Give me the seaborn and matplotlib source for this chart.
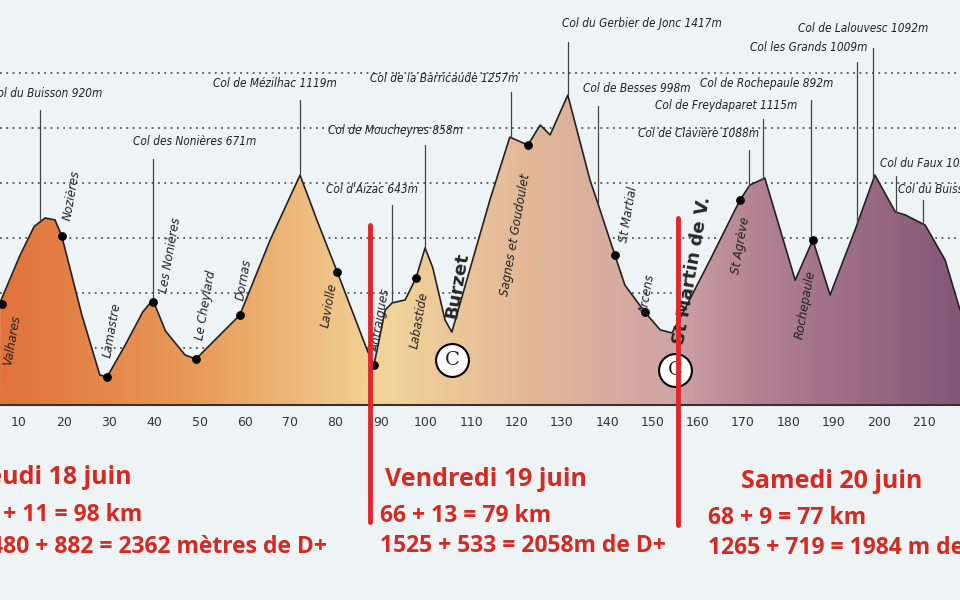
import numpy as np
import pandas as pd
import matplotlib
matplotlib.use("Agg")
import matplotlib.pyplot as plt
import seaborn as sns
from matplotlib.colors import LinearSegmentedColormap
from matplotlib.patches import Polygon
from matplotlib.lines import Line2D

km = [6.0, 10.4, 13.5, 15.9, 18.1, 19.6, 24.0, 28.0, 29.6, 33.6, 37.5, 39.7, 42.5, 46.8, 49.2, 58.9, 65.6, 72.2, 76.0, 80.4, 87.0,
      88.5, 91.0, 92.5, 95.4, 97.8, 99.8, 101.5, 104.2, 105.7, 114.1, 118.5, 122.5, 125.2, 127.4, 131.3,
      136.2, 137.7, 141.7, 143.9, 148.3, 151.7, 154.3, 156.1, 162.7, 169.3, 171.5, 174.8, 181.5,
      185.4, 189.2, 194.7, 199.1, 203.6, 205.8, 210.2, 214.6, 217.9]
alt = [665, 836, 940, 971, 964, 905, 620, 400, 393, 509, 630, 673, 560, 473, 458, 618, 891, 1127, 960, 775, 491,
       436, 636, 662, 673, 753, 862, 790, 600, 556, 1036, 1265, 1236, 1309, 1273, 1418,
       1109, 1036, 836, 727, 629, 564, 553, 607, 818, 1036, 1091, 1116, 745,
       891, 691, 927, 1127, 993, 982, 945, 818, 636]

ticks = list(range(10, 220, 10))

cols = ["Col du Buisson 920m", "Col des Nonières 671m", "Col de Mézilhac 1119m", "Col de Moucheyres 858m",
        "Col d'Aizac 643m", "Col de la Barricaude 1257m", "Col du Gerbier de Jonc 1417m", "Col de Besses 998m",
        "Col de Freydaparet 1115m", "Col de Clavière 1088m", "Col de Rochepaule 892m", "Col les Grands 1009m",
        "Col de Lalouvesc 1092m", "Col du Faux 1028m", "Col du Buisson 920m"]
col_km = [14.8, 39.7, 72.2, 99.8, 92.5, 118.7, 131.3, 137.9, 174.4, 171.3, 184.9, 195.1, 198.7, 203.8, 209.7]
col_top = [1365, 1185, 1400, 1235, 1020, 1430, 1610, 1380, 1330, 1220, 1400, 1540, 1590, 1125, 1035]
col_tx = [-10, 133, 213, 328, 326, 370, 562, 583, 655, 638, 700, 750, 798, 880, 898]
col_ty = [1425, 1250, 1460, 1290, 1075, 1480, 1680, 1440, 1380, 1280, 1460, 1590, 1660, 1170, 1075]

towns = ["Valhares", "Nozières", "Lamastre", "Les Nonières", "Le Cheylard", "Dornas", "Laviolle",
         "Antraigues", "Labastide", "Sagnes et Goudoulet", "St Martial", "Arcens", "St Agrève", "Rochepaule"]
town_km = [6.4, 19.6, 29.6, 39.7, 49.2, 58.9, 80.4, 88.5, 97.8, 122.5, 141.7, 148.3, 169.3, 185.4]
town_alt = [658, 905, 393, 665, 458, 618, 775, 436, 753, 1236, 836, 629, 1036, 891]
town_lx = [12, 72, 112, 170, 206, 244, 329, 381, 419, 515, 628, 648, 741, 805]
town_ly = [340, 195, 330, 255, 305, 280, 305, 320, 320, 235, 215, 295, 245, 305]

days = ["Jeudi 18 juin", "Vendredi 19 juin", "Samedi 20 juin"]
dist = ["87 + 11 = 98 km", "66 + 13 = 79 km", "68 + 9 = 77 km"]
dplus = ["1480 + 882 = 2362 mètres de D+", "1525 + 533 = 2058m de D+", "1265 + 719 = 1984 m de D+"]
split_km = [87.6, 155.6]

W, H = 960, 600
fig = plt.figure(figsize=(9.6, 6.0), dpi=100)
sns.set_theme(style="white")
plt.rcParams['font.family'] = ['DejaVu Sans']
bg = "#eef3f6"
fig.patch.set_facecolor(bg)
ax = fig.add_axes([0, 1 - 405 / H, 1, 405 / H])
ax.set_facecolor(bg)
x0, x1 = (0 + 27) / 4.53, (960 + 27) / 4.53
def e_of(py): return 1400 - (py - 100) / 0.275
y0, y1 = e_of(405), e_of(0)
ax.set_xlim(x0, x1); ax.set_ylim(y0, y1)

def fx(px): return (px + 27) / 4.53

for g in range(500, 1600, 200):
    ax.axhline(g, color="#555555", lw=1.3, ls=(0, (1, 2.5)), zorder=1)

cmap = LinearSegmentedColormap.from_list("p", [(0, "#e2733c"), (0.2, "#e89a58"), (0.4, "#f2d49a"),
                                              (0.55, "#e2b898"), (0.7, "#cfa4a6"), (0.8, "#b07f91"),
                                              (1, "#845777")])
grad = np.linspace(0, 1, 300).reshape(1, -1)
im = ax.imshow(grad, cmap=cmap, extent=[x0, x1, y0, y1], aspect="auto", zorder=2)
poly = Polygon(list(zip([x0] + km + [x1], [y0] + alt + [y0])), closed=True, transform=ax.transData)
im.set_clip_path(poly)
df = pd.DataFrame({"km": km, "alt": alt})
sns.lineplot(data=df, x="km", y="alt", ax=ax, color="#222222", lw=1.2, zorder=3)
ax.set_xlabel(""); ax.set_ylabel("")
ax.set_yticks([])
ax.set_xticks(ticks)
ax.set_xticklabels([str(t) for t in ticks], fontsize=9, color="#333333")
ax.tick_params(axis="x", length=0, pad=8)
for s in ["top", "left", "right"]:
    ax.spines[s].set_visible(False)
ax.spines["bottom"].set_color("#333333"); ax.spines["bottom"].set_linewidth(1.5)

for name, k, top, tx, ty in zip(cols, col_km, col_top, col_tx, col_ty):
    a = np.interp(k, km, alt)
    ax.plot([k, k], [top, a], color="#444444", lw=0.9, zorder=4)
    ax.text(fx(tx), ty, name, fontsize=8.5, fontstretch="condensed", style="italic",
            color="#222222", ha="left", va="center", zorder=5)

ax.scatter(town_km, town_alt, s=28, color="black", zorder=5)
for name, lx, ly in zip(towns, town_lx, town_ly):
    ax.text(fx(lx), e_of(ly), name, fontsize=8.5, style="italic", rotation=80,
            color="#222222", ha="center", va="center", zorder=5)
ax.text(fx(457), e_of(285), "Burzet", fontsize=13, weight="bold", rotation=80, ha="center", va="center", zorder=5)
ax.text(fx(692), e_of(270), "St Martin de V.", fontsize=13, weight="bold", rotation=80, ha="center", va="center", zorder=5)
for cx, cy in [(452, 360), (675, 370)]:
    ax.scatter([fx(cx)], [e_of(cy)], s=560, facecolor="white", edgecolor="black", lw=1.5, zorder=6)
    ax.text(fx(cx), e_of(cy), "C", fontsize=14, family="DejaVu Serif", ha="center", va="center", zorder=7)

for k, ytop, ybot in zip(split_km, [225, 218], [522, 525]):
    px = k * 4.53 - 27
    fig.add_artist(Line2D([px / W, px / W], [1 - ytop / H, 1 - ybot / H], color="#e0262a", lw=3.5, zorder=8))

red = "#d42a22"
tbig = dict(color=red, weight="bold", fontsize=18, family="Open Sans")
tfont = dict(color=red, weight="bold", fontsize=16.5, family="Open Sans")
fig.text(133 / W, 1 - 477 / H, days[0], ha="right", va="center", **tbig)
fig.text(142 / W, 1 - 515 / H, dist[0], ha="right", va="center", **tfont)
fig.text(327 / W, 1 - 547 / H, dplus[0], ha="right", va="center", **tfont)
fig.text(385 / W, 1 - 480 / H, days[1], ha="left", va="center", **tbig)
fig.text(380 / W, 1 - 516 / H, dist[1], ha="left", va="center", **tfont)
fig.text(380 / W, 1 - 546 / H, dplus[1], ha="left", va="center", **tfont)
fig.text(741 / W, 1 - 481 / H, days[2], ha="left", va="center", **tbig)
fig.text(708 / W, 1 - 518 / H, dist[2], ha="left", va="center", **tfont)
fig.text(708 / W, 1 - 548 / H, dplus[2], ha="left", va="center", **tfont)

fig.savefig("out.png", dpi=100, facecolor=bg)
